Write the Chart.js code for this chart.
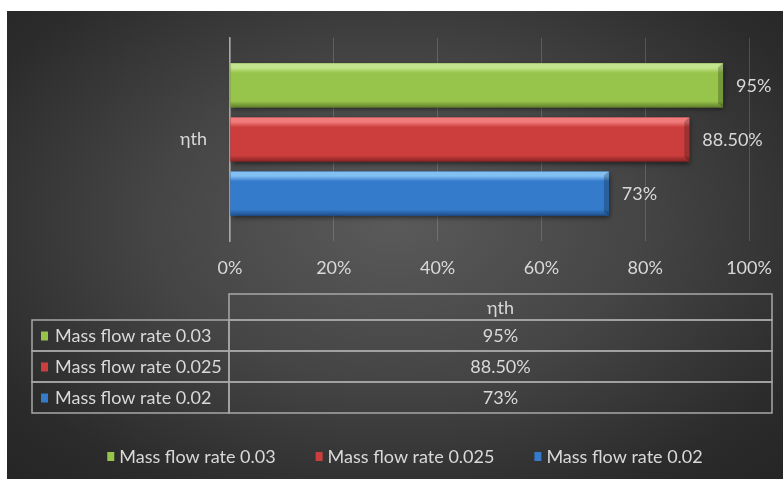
<!DOCTYPE html>
<html>
<head>
<meta charset="utf-8">
<script src="https://cdn.jsdelivr.net/npm/chart.js@4.4.1/dist/chart.umd.min.js"></script>
<style>
  body { margin: 0; background: #fff; }
  #wrap {
    position: absolute; left: 7px; top: 11px; width: 776px; height: 468px;
    background: radial-gradient(ellipse 70% 75% at 50% 45%, #5a5a5a 0%, #454545 45%, #2b2b2b 85%, #262626 100%);
  }
</style>
</head>
<body>
<div id="wrap"><canvas id="chart"></canvas></div>
<script>
const categories = ['ηth'];
const seriesNames = ['Mass flow rate 0.03', 'Mass flow rate 0.025', 'Mass flow rate 0.02'];
const seriesValues = [[95], [88.5], [73]];
const valueLabels = ['95%', '88.50%', '73%'];
const tickLabels = ['0%', '20%', '40%', '60%', '80%', '100%'];

// body, highlight, shadow
const barColors = [
    ['#97c44a', '#c3e48e', '#617f2c'],
    ['#cc3e3e', '#f27c7c', '#862424'],
    ['#357bcb', '#82bff3', '#1f4f8c']
];
const textColor = '#d9d9d9';
const fontFamily = 'Lato, "Open Sans", sans-serif';
const fontSize = 18;

// bevel, shadow and value label on each bar
const bevelPlugin = {
    id: 'bevel',
    afterDatasetsDraw(chart) {
        const ctx = chart.ctx;
        chart.data.datasets.forEach(function(ds, i) {
            const meta = chart.getDatasetMeta(i);
            meta.data.forEach(function(el) {
                const p = el.getProps(['x', 'y', 'base', 'height'], true);
                const top = p.y - p.height / 2;
                const w = p.x - p.base;
                const c = barColors[i];
                ctx.save();
                ctx.shadowColor = 'rgba(0,0,0,0.55)';
                ctx.shadowBlur = 5;
                ctx.shadowOffsetY = 2;
                ctx.shadowOffsetX = 1;
                const g = ctx.createLinearGradient(0, top, 0, top + p.height);
                g.addColorStop(0, c[1]);
                g.addColorStop(0.1, c[1]);
                g.addColorStop(0.22, c[0]);
                g.addColorStop(0.86, c[0]);
                g.addColorStop(1, c[2]);
                ctx.fillStyle = g;
                ctx.fillRect(p.base, top, w, p.height);
                ctx.restore();
                // right end cap
                ctx.save();
                ctx.fillStyle = 'rgba(0,0,0,0.22)';
                ctx.beginPath();
                ctx.moveTo(p.x - 5, top + 4);
                ctx.lineTo(p.x, top);
                ctx.lineTo(p.x, top + p.height);
                ctx.lineTo(p.x - 5, top + p.height - 4);
                ctx.closePath();
                ctx.fill();
                ctx.restore();
                // value label
                ctx.save();
                ctx.font = fontSize + 'px ' + fontFamily;
                ctx.fillStyle = textColor;
                ctx.textBaseline = 'middle';
                ctx.textAlign = 'left';
                ctx.fillText(valueLabels[i], p.x + 13, p.y + 1);
                ctx.restore();
            });
        });
    }
};

// data table under the x axis, legend at the bottom
const tablePlugin = {
    id: 'dataTable',
    afterDraw(chart) {
        const ctx = chart.ctx;
        const area = chart.chartArea;
        const colX = area.left - 1;
        const right = chart.width - 11;
        const left = 25;
        const top = area.bottom + 53;
        const headH = 26;
        const rowH = 31;
        const mid = (colX + right) / 2;
        ctx.save();
        ctx.strokeStyle = '#a8a8a8';
        ctx.lineWidth = 1.5;
        ctx.strokeRect(colX, top, right - colX, headH);
        for (let i = 0; i < seriesNames.length; i++) {
            const y = top + headH + i * rowH;
            ctx.strokeRect(left, y, colX - left, rowH);
            ctx.strokeRect(colX, y, right - colX, rowH);
        }
        ctx.font = fontSize + 'px ' + fontFamily;
        ctx.fillStyle = textColor;
        ctx.textBaseline = 'middle';
        ctx.textAlign = 'center';
        ctx.fillText(categories[0], mid, top + headH / 2 + 1);
        for (let i = 0; i < seriesNames.length; i++) {
            const cy = top + headH + i * rowH + rowH / 2 + 1;
            ctx.fillStyle = textColor;
            ctx.textAlign = 'center';
            ctx.fillText(valueLabels[i], mid, cy);
            ctx.textAlign = 'left';
            ctx.fillText(seriesNames[i], left + 23, cy);
            ctx.fillStyle = barColors[i][0];
            ctx.fillRect(left + 9, cy - 5, 7, 9);
        }

        // legend
        const gap = 40;
        const widths = seriesNames.map(n => 12 + ctx.measureText(n).width);
        const total = widths.reduce((a, b) => a + b, 0) + gap * (widths.length - 1);
        let x = chart.width / 2 + 10 - total / 2;
        const ly = chart.height - 22;
        ctx.textAlign = 'left';
        seriesNames.forEach(function(n, i) {
            ctx.fillStyle = barColors[i][0];
            ctx.fillRect(x, ly - 5, 7, 9);
            ctx.fillStyle = textColor;
            ctx.fillText(n, x + 12, ly);
            x += widths[i] + gap;
        });
        ctx.restore();
    }
};

const datasets = seriesNames.map(function(name, i) {
    return {
        label: name,
        data: seriesValues[i],
        backgroundColor: barColors[i][0],
        borderWidth: 0,
        categoryPercentage: 0.8,
        barPercentage: 0.815
    };
});

new Chart(document.getElementById('chart'), {
    type: 'bar',
    data: { labels: categories, datasets: datasets },
    options: {
        indexAxis: 'y',
        responsive: true,
        maintainAspectRatio: false,
        animation: false,
        layout: { padding: { top: 27, right: 34, bottom: 40, left: 0 } },
        plugins: {
            tooltip: { enabled: false },
            legend: { display: false }
        },
        scales: {
            x: {
                min: 0,
                max: 100,
                ticks: {
                    stepSize: 20,
                    color: textColor,
                    font: { family: fontFamily, size: fontSize },
                    padding: 16,
                    callback: function(v, i) { return tickLabels[i]; }
                },
                grid: { color: 'rgba(255,255,255,0.16)', drawTicks: false },
                border: { display: false },
                afterFit: function(s) {
                    s.height = 198;
                    s.paddingLeft = 0;
                    s.paddingRight = 0;
                }
            },
            y: {
                ticks: {
                    color: textColor,
                    font: { family: fontFamily, size: fontSize },
                    padding: 23
                },
                grid: { display: false, drawTicks: false },
                border: { display: true, color: '#a8a8a8', width: 1.5 },
                afterFit: function(s) {
                    s.width = 223;
                    s.paddingTop = 0;
                    s.paddingBottom = 0;
                }
            }
        }
    },
    plugins: [bevelPlugin, tablePlugin]
});
</script>
</body>
</html>
